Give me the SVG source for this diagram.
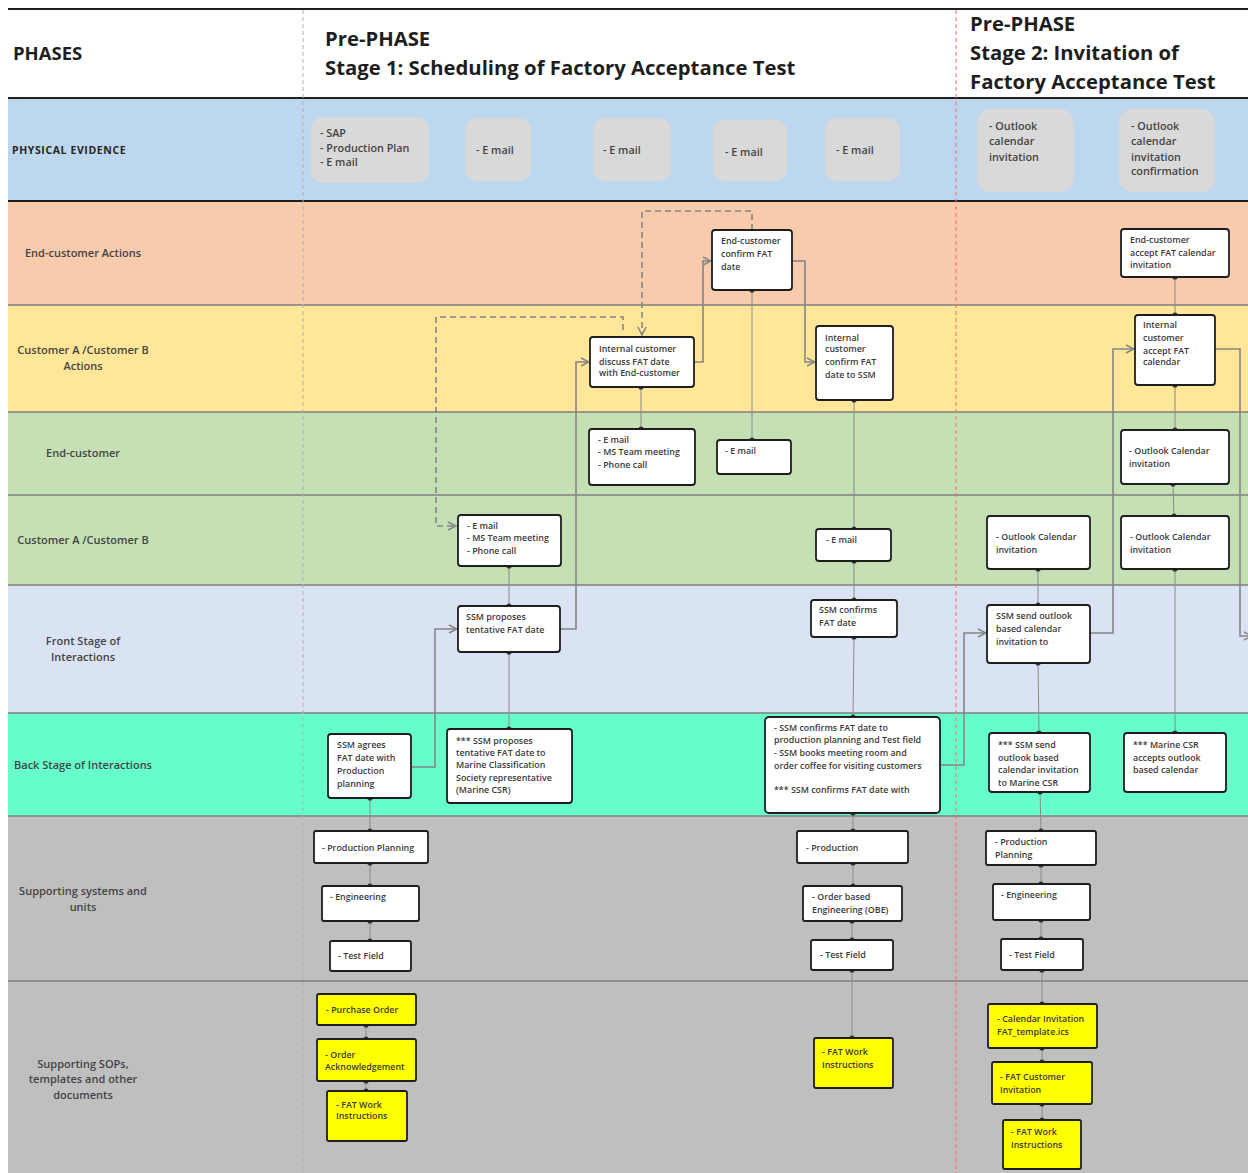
<svg xmlns="http://www.w3.org/2000/svg" width="1248" height="1173" viewBox="0 0 1248 1173">
  <defs>
    <style>
      text { font-family: "Open Sans", "Noto Sans", "DejaVu Sans", sans-serif; fill: #3a3a3a; }
      .h1 { font-size: 18.5px; font-weight: 700; fill: #1e1e1e; }
      .h2 { font-size: 20.3px; font-weight: 700; fill: #1e1e1e; }
      .pe { font-size: 10.5px; font-weight: 700; fill: #262626; letter-spacing: 0.6px; }
      .lane { font-size: 11px; font-weight: 600; text-anchor: middle; fill: #444; }
      .ev rect { fill: #d9d9d9; }
      .ev text { font-size: 10.8px; font-weight: 600; fill: #444; }
      .node rect { fill: #ffffff; stroke: #1e1e1e; stroke-width: 1.8; }
      .node.sop rect { fill: #ffff00; }
      .node text { font-size: 8.9px; font-weight: 600; fill: #3a3a3a; }
      .sep { stroke: #7f7f7f; stroke-width: 1.5; }
      .bold-sep { stroke: #1e1e1e; stroke-width: 2; }
      .link { stroke: #8a8a8a; stroke-width: 1; fill: none; marker-start: url(#dot); marker-end: url(#dot); }
      .flow { stroke: #858585; stroke-width: 1.6; fill: none; marker-end: url(#open); }
      .dash { stroke: #858585; stroke-width: 1.6; fill: none; stroke-dasharray: 6 4; }
    </style>
    <marker id="dot" viewBox="0 0 6 6" refX="3" refY="3" markerWidth="6" markerHeight="6" markerUnits="userSpaceOnUse">
      <circle cx="3" cy="3" r="2.6" fill="#333"/>
    </marker>
    <marker id="open" viewBox="0 0 10 10" refX="9" refY="5" markerWidth="10" markerHeight="10" markerUnits="userSpaceOnUse" orient="auto">
      <path d="M1,1 L9,5 L1,9" fill="none" stroke="#858585" stroke-width="1.5"/>
    </marker>
  </defs>

  <rect width="1248" height="1173" fill="#ffffff"/>

  <!-- swimlane bands -->
  <g id="lanes">
    <rect x="8" y="98" width="1240" height="103" fill="#bdd7ee"/>
    <rect x="8" y="201" width="1240" height="104" fill="#f8cbad"/>
    <rect x="8" y="305" width="1240" height="107" fill="#ffe699"/>
    <rect x="8" y="412" width="1240" height="83" fill="#c5e0b4"/>
    <rect x="8" y="495" width="1240" height="90" fill="#c5e0b4"/>
    <rect x="8" y="585" width="1240" height="128" fill="#dae3f3"/>
    <rect x="8" y="713" width="1240" height="103" fill="#66ffcc"/>
    <rect x="8" y="816" width="1240" height="165" fill="#bfbfbf"/>
    <rect x="8" y="981" width="1240" height="192" fill="#bfbfbf"/>
    <line class="sep" x1="8" y1="305" x2="1248" y2="305"/>
    <line class="sep" x1="8" y1="412" x2="1248" y2="412"/>
    <line class="sep" x1="8" y1="495" x2="1248" y2="495"/>
    <line class="sep" x1="8" y1="585" x2="1248" y2="585"/>
    <line class="sep" x1="8" y1="713" x2="1248" y2="713"/>
    <line class="sep" x1="8" y1="816" x2="1248" y2="816"/>
    <line class="sep" x1="8" y1="981" x2="1248" y2="981"/>
    <line class="bold-sep" x1="8" y1="9" x2="1248" y2="9"/>
    <line class="bold-sep" x1="8" y1="98" x2="1248" y2="98"/>
    <line class="bold-sep" x1="8" y1="201" x2="1248" y2="201"/>
    <line x1="303" y1="10" x2="303" y2="1173" stroke="#b0b0b0" stroke-width="1" stroke-dasharray="4 3"/>
    <line x1="956" y1="10" x2="956" y2="1173" stroke="#ff6b6b" stroke-width="1" stroke-dasharray="4 3"/>
  </g>

  <!-- header -->
  <g id="header">
    <text class="h1" x="13" y="60">PHASES</text>
    <text class="h2" x="325" y="46">Pre-PHASE</text>
    <text class="h2" x="325" y="75">Stage 1: Scheduling of Factory Acceptance Test</text>
    <text class="h2" x="970" y="31">Pre-PHASE</text>
    <text class="h2" x="970" y="60">Stage 2: Invitation of</text>
    <text class="h2" x="970" y="89">Factory Acceptance Test</text>
  </g>

  <!-- lane titles -->
  <g id="lane-titles">
    <text class="pe" x="12" y="154">PHYSICAL EVIDENCE</text>
    <text class="lane" x="83" y="257">End-customer Actions</text>
    <text class="lane" x="83" y="354">Customer A /Customer B</text>
    <text class="lane" x="83" y="370">Actions</text>
    <text class="lane" x="83" y="457">End-customer</text>
    <text class="lane" x="83" y="544">Customer A /Customer B</text>
    <text class="lane" x="83" y="645">Front Stage of</text>
    <text class="lane" x="83" y="661">Interactions</text>
    <text class="lane" x="83" y="769">Back Stage of Interactions</text>
    <text class="lane" x="83" y="895">Supporting systems and</text>
    <text class="lane" x="83" y="911">units</text>
    <text class="lane" x="83" y="1068">Supporting SOPs,</text>
    <text class="lane" x="83" y="1083">templates and other</text>
    <text class="lane" x="83" y="1099">documents</text>
  </g>

  <!-- physical evidence -->
  <g id="ev-sap" class="ev"><rect x="311" y="117" width="118" height="66" rx="12"/>
    <text x="320" y="137">- SAP</text><text x="320" y="152">- Production Plan</text><text x="320" y="166">- E mail</text></g>
  <g id="ev-mail1" class="ev"><rect x="465" y="118" width="66" height="63" rx="12"/><text x="476" y="154">- E mail</text></g>
  <g id="ev-mail2" class="ev"><rect x="593" y="118" width="78" height="63" rx="12"/><text x="603" y="154">- E mail</text></g>
  <g id="ev-mail3" class="ev"><rect x="713" y="120" width="74" height="61" rx="12"/><text x="725" y="156">- E mail</text></g>
  <g id="ev-mail4" class="ev"><rect x="825" y="118" width="75" height="63" rx="12"/><text x="836" y="154">- E mail</text></g>
  <g id="ev-outlook" class="ev"><rect x="977" y="109" width="97" height="83" rx="14"/>
    <text x="989" y="130">-  Outlook</text><text x="989" y="145">calendar</text><text x="989" y="161">invitation</text></g>
  <g id="ev-outlook-conf" class="ev"><rect x="1119" y="109" width="96" height="83" rx="14"/>
    <text x="1131" y="130">-  Outlook</text><text x="1131" y="145">calendar</text><text x="1131" y="161">invitation</text><text x="1131" y="175">confirmation</text></g>

  <!-- connectors -->
  <g id="connectors">
    <!-- dotted-end links -->
    <line class="link" x1="641" y1="387" x2="641" y2="429"/>
    <line class="link" x1="752" y1="290" x2="752" y2="440"/>
    <line class="link" x1="509" y1="566" x2="509" y2="606"/>
    <line class="link" x1="509" y1="652" x2="509" y2="729"/>
    <line class="link" x1="370" y1="798" x2="370" y2="831"/>
    <line class="link" x1="370" y1="863" x2="370" y2="886"/>
    <line class="link" x1="370" y1="921" x2="370" y2="941"/>
    <line class="link" x1="366" y1="1025" x2="366" y2="1039"/>
    <line class="link" x1="366" y1="1081" x2="366" y2="1091"/>
    <line class="link" x1="854" y1="400" x2="854" y2="529"/>
    <line class="link" x1="854" y1="561" x2="854" y2="600"/>
    <line class="link" x1="854" y1="637" x2="853" y2="717"/>
    <line class="link" x1="853" y1="813" x2="853" y2="831"/>
    <line class="link" x1="853" y1="863" x2="853" y2="886"/>
    <line class="link" x1="852" y1="921" x2="852" y2="940"/>
    <line class="link" x1="852" y1="970" x2="852" y2="1038"/>
    <line class="link" x1="1175" y1="277" x2="1175" y2="315"/>
    <line class="link" x1="1175" y1="385" x2="1175" y2="430"/>
    <line class="link" x1="1173" y1="484" x2="1174" y2="516"/>
    <line class="link" x1="1175" y1="569" x2="1175" y2="733"/>
    <line class="link" x1="1038" y1="569" x2="1038" y2="605"/>
    <line class="link" x1="1038" y1="663" x2="1039" y2="733"/>
    <line class="link" x1="1040" y1="792" x2="1041" y2="831"/>
    <line class="link" x1="1041" y1="865" x2="1041" y2="884"/>
    <line class="link" x1="1041" y1="920" x2="1041" y2="939"/>
    <line class="link" x1="1042" y1="970" x2="1042" y2="1004"/>
    <line class="link" x1="1042" y1="1048" x2="1042" y2="1062"/>
    <line class="link" x1="1042" y1="1104" x2="1042" y2="1120"/>

    <!-- process flow -->
    <path class="flow" d="M411,767 H435 V629 H457"/>
    <path class="flow" d="M560,629 H576 V362 H589"/>
    <path class="flow" d="M694,362 H703 V261 H711"/>
    <path class="flow" d="M792,261 H805 V362 H815"/>
    <path class="flow" d="M940,765 H964 V633 H986"/>
    <path class="flow" d="M1090,633 H1113 V349 H1134"/>
    <path class="flow" d="M1215,349 H1240 V636 H1252" marker-end="none"/>

    <!-- dashed feedback -->
    <path class="dash" d="M752,230 V211 H642 V335" marker-end="url(#open)"/>
    <path class="dash" d="M623,330 V317 H436 V526 H456" marker-end="url(#open)"/>
  </g>

  <!-- Stage 1 nodes -->
  <g id="n-ec-confirm" class="node"><rect x="712" y="230" width="80" height="60" rx="3"/>
    <text x="721" y="244">End-customer</text><text x="721" y="257">confirm FAT</text><text x="721" y="270">date</text></g>
  <g id="n-ic-discuss" class="node"><rect x="590" y="337" width="104" height="50" rx="3"/>
    <text x="599" y="352">Internal customer</text><text x="599" y="365">discuss FAT date</text><text x="599" y="376">with End-customer</text></g>
  <g id="n-ic-confirm" class="node"><rect x="816" y="326" width="77" height="74" rx="3"/>
    <text x="825" y="341">Internal</text><text x="825" y="352">customer</text><text x="825" y="365">confirm FAT</text><text x="825" y="378">date to SSM</text></g>
  <g id="n-ec-channels" class="node"><rect x="589" y="429" width="106" height="56" rx="3"/>
    <text x="598" y="443">- E mail</text><text x="598" y="455">- MS Team meeting</text><text x="598" y="468">- Phone call</text></g>
  <g id="n-ec-mail" class="node"><rect x="717" y="440" width="74" height="34" rx="3"/>
    <text x="725" y="454">- E mail</text></g>
  <g id="n-cab-channels" class="node"><rect x="458" y="515" width="103" height="51" rx="3"/>
    <text x="467" y="529">- E mail</text><text x="467" y="541">- MS Team meeting</text><text x="467" y="554">- Phone call</text></g>
  <g id="n-cab-mail" class="node"><rect x="816" y="529" width="75" height="32" rx="3"/>
    <text x="826" y="543">- E mail</text></g>
  <g id="n-ssm-propose" class="node"><rect x="458" y="606" width="102" height="46" rx="3"/>
    <text x="466" y="620">SSM proposes</text><text x="466" y="633">tentative FAT date</text></g>
  <g id="n-ssm-confirms" class="node"><rect x="811" y="600" width="86" height="37" rx="3"/>
    <text x="819" y="613">SSM  confirms</text><text x="819" y="626">FAT date</text></g>
  <g id="n-ssm-agrees" class="node"><rect x="328" y="734" width="83" height="64" rx="3"/>
    <text x="337" y="748">SSM agrees</text><text x="337" y="761">FAT date with</text><text x="337" y="774">Production</text><text x="337" y="787">planning</text></g>
  <g id="n-ssm-csr" class="node"><rect x="447" y="729" width="125" height="74" rx="3"/>
    <text x="456" y="744">*** SSM proposes</text><text x="456" y="756">tentative FAT date to</text><text x="456" y="768">Marine Classification</text><text x="456" y="781">Society representative</text><text x="456" y="793">(Marine CSR)</text></g>
  <g id="n-ssm-book" class="node"><rect x="765" y="717" width="175" height="96" rx="4"/>
    <text x="774" y="731">- SSM  confirms FAT date to</text><text x="774" y="743">production planning and Test field</text><text x="774" y="756">- SSM books meeting room and</text><text x="774" y="769">order coffee for visiting customers</text><text x="774" y="793">*** SSM confirms   FAT date with</text></g>

  <!-- Stage 2 nodes -->
  <g id="n-ec-accept" class="node"><rect x="1121" y="229" width="108" height="48" rx="3"/>
    <text x="1130" y="243">End-customer</text><text x="1130" y="256">accept FAT calendar</text><text x="1130" y="268">invitation</text></g>
  <g id="n-ic-accept" class="node"><rect x="1135" y="315" width="80" height="70" rx="3"/>
    <text x="1143" y="328">Internal</text><text x="1143" y="341">customer</text><text x="1143" y="354">accept FAT</text><text x="1143" y="365">calendar</text></g>
  <g id="n-ec-outlook" class="node"><rect x="1121" y="430" width="108" height="54" rx="3"/>
    <text x="1129" y="454">- Outlook Calendar</text><text x="1129" y="467">invitation</text></g>
  <g id="n-cab-outlook1" class="node"><rect x="987" y="516" width="103" height="53" rx="3"/>
    <text x="996" y="540">- Outlook Calendar</text><text x="996" y="553">invitation</text></g>
  <g id="n-cab-outlook2" class="node"><rect x="1121" y="516" width="108" height="53" rx="3"/>
    <text x="1130" y="540">- Outlook Calendar</text><text x="1130" y="553">invitation</text></g>
  <g id="n-ssm-send" class="node"><rect x="987" y="605" width="103" height="58" rx="3"/>
    <text x="996" y="619">SSM send outlook</text><text x="996" y="632">based calendar</text><text x="996" y="645">invitation to</text></g>
  <g id="n-ssm-send-csr" class="node"><rect x="989" y="733" width="101" height="59" rx="3"/>
    <text x="998" y="748">*** SSM send</text><text x="998" y="761">outlook based</text><text x="998" y="773">calendar invitation</text><text x="998" y="786">to Marine CSR</text></g>
  <g id="n-csr-accept" class="node"><rect x="1124" y="733" width="102" height="59" rx="3"/>
    <text x="1133" y="748">*** Marine CSR</text><text x="1133" y="761">accepts outlook</text><text x="1133" y="773">based calendar</text></g>

  <!-- supporting systems -->
  <g id="s1-prod-plan" class="node"><rect x="314" y="831" width="114" height="32" rx="2"/><text x="322" y="851">- Production Planning</text></g>
  <g id="s1-eng" class="node"><rect x="322" y="886" width="97" height="35" rx="2"/><text x="330" y="900">- Engineering</text></g>
  <g id="s1-test" class="node"><rect x="330" y="941" width="81" height="30" rx="2"/><text x="338" y="959">- Test Field</text></g>
  <g id="s2-prod" class="node"><rect x="797" y="831" width="111" height="32" rx="2"/><text x="806" y="851">- Production</text></g>
  <g id="s2-obe" class="node"><rect x="803" y="886" width="99" height="35" rx="2"/><text x="812" y="900">- Order based</text><text x="812" y="913">Engineering (OBE)</text></g>
  <g id="s2-test" class="node"><rect x="811" y="940" width="82" height="30" rx="2"/><text x="820" y="958">- Test Field</text></g>
  <g id="s3-prod-plan" class="node"><rect x="986" y="831" width="110" height="34" rx="2"/><text x="995" y="845">- Production</text><text x="995" y="858">Planning</text></g>
  <g id="s3-eng" class="node"><rect x="993" y="884" width="97" height="36" rx="2"/><text x="1001" y="898">- Engineering</text></g>
  <g id="s3-test" class="node"><rect x="1001" y="939" width="82" height="31" rx="2"/><text x="1009" y="958">- Test Field</text></g>

  <!-- supporting documents -->
  <g id="d1-po" class="node sop"><rect x="317" y="994" width="99" height="31" rx="2"/><text x="326" y="1013">- Purchase Order</text></g>
  <g id="d1-ack" class="node sop"><rect x="317" y="1039" width="99" height="42" rx="2"/><text x="325" y="1058">- Order</text><text x="325" y="1070">Acknowledgement</text></g>
  <g id="d1-fat" class="node sop"><rect x="327" y="1091" width="80" height="50" rx="2"/><text x="336" y="1108">-  FAT Work</text><text x="336" y="1119">Instructions</text></g>
  <g id="d2-fat" class="node sop"><rect x="814" y="1038" width="79" height="50" rx="2"/><text x="822" y="1055">-  FAT Work</text><text x="822" y="1068">Instructions</text></g>
  <g id="d3-ics" class="node sop"><rect x="988" y="1004" width="109" height="44" rx="2"/><text x="997" y="1022">- Calendar Invitation</text><text x="997" y="1035">FAT_template.ics</text></g>
  <g id="d3-invite" class="node sop"><rect x="992" y="1062" width="100" height="42" rx="2"/><text x="1000" y="1080">- FAT Customer</text><text x="1000" y="1093">Invitation</text></g>
  <g id="d3-fat" class="node sop"><rect x="1003" y="1120" width="78" height="49" rx="2"/><text x="1011" y="1135">- FAT Work</text><text x="1011" y="1148">Instructions</text></g>
</svg>
